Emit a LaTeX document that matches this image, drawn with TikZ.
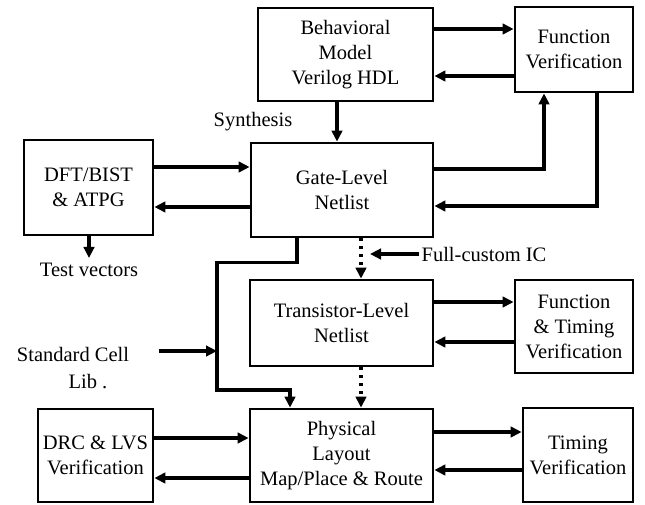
\documentclass[tikz,border=0pt]{standalone}
\usepackage{fontspec}
\setmainfont{Liberation Serif}
\usetikzlibrary{arrows.meta,positioning,calc}
\tikzset{
  blk/.style    = {draw,line width=2.8pt,inner sep=0pt,align=center,
                   font=\fontsize{20.5}{25}\selectfont},
  lbl/.style    = {inner sep=2pt,align=center,font=\fontsize{20.5}{27}\selectfont},
  arr/.style    = {-{Triangle[length=11pt,width=10.5pt]},line width=3.3pt},
  dotarr/.style = {arr,dash pattern=on 3pt off 5pt},
}

\begin{document}
\begin{tikzpicture}[x=1pt,y=-1pt]
  % Page frame
  \useasboundingbox (0,0) rectangle (645,504);

  % Design levels (middle column)
  \node[blk,minimum width=175pt,minimum height=93pt] (beh) at (345.5,54.5)
      {Behavioral\\Model\\Verilog HDL};
  \node[blk,minimum width=182pt,minimum height=94pt] (gate) at (342,190)
      {Gate-Level\\Netlist};
  \node[blk,minimum width=183pt,minimum height=86pt] (trans) at (341.5,323)
      {Transistor-Level\\Netlist};
  \node[blk,minimum width=183pt,minimum height=93pt] (phys) at (341.5,455.5)
      {Physical\\Layout\\Map/Place \& Route};

  % Verification and test boxes
  \node[blk,minimum width=118pt,minimum height=85pt] (fv) at (574,49.5)
      {Function\\Verification};
  \node[blk,minimum width=129pt,minimum height=95pt] (dft) at (88.5,187.5)
      {DFT/BIST\\\& ATPG};
  \node[blk,minimum width=118pt,minimum height=93pt] (ftv) at (574,326.5)
      {Function\\\& Timing\\Verification};
  \node[blk,minimum width=115pt,minimum height=93pt] (drc) at (95.5,455.5)
      {DRC \& LVS\\Verification};
  \node[blk,minimum width=110pt,minimum height=94pt] (tv) at (578,455)
      {Timing\\Verification};

  % Free labels
  \node[lbl] (syn) at (253,122) {Synthesis};
  \node[lbl,inner sep=5pt] (testv) at (89,270) {Test vectors};
  \node[lbl] (fcic) at (484,254) {Full-custom IC};
  \node[lbl] (stdlib) at (73,368) {Standard Cell\\\hspace*{30pt}Lib .};

  % Helper points
  \coordinate (gs) at ([xshift=19pt]gate.south);
  \coordinate (bus) at (217,351);

  % Behavioral <-> function verification
  \draw[arr] ([yshift=25.5pt]beh.east) -- ([yshift=25.5pt]beh.east -| fv.west);
  \draw[arr] ([yshift=-21.5pt]beh.east -| fv.west) -- ([yshift=-21.5pt]beh.east);
  % Synthesis
  \draw[arr] ([xshift=-8.5pt]beh.south) -- ([xshift=-8.5pt]beh.south |- gate.north);
  % Gate level <-> function verification
  \draw[arr] ([yshift=21pt]gate.east) -| ([xshift=-30pt]fv.south);
  \draw[arr] ([xshift=23pt]fv.south) |- ([yshift=-16pt]gate.east);
  % DFT <-> gate level
  \draw[arr] ([yshift=20.5pt]dft.east) -- ([yshift=20.5pt]dft.east -| gate.west);
  \draw[arr] ([yshift=-19.5pt]dft.east -| gate.west) -- ([yshift=-19.5pt]dft.east);
  \draw[arr] (testv.north |- dft.south) -- (testv.north);

  % Standard cell route
  \draw[arr] ([xshift=-45pt]gate.south) -- ++(0,24) -| (bus) -- ++(0,39)
      -| ([xshift=-51.5pt]phys.north);
  \draw[arr] ([xshift=28pt]stdlib.east |- bus) -- (bus);

  % Full-custom route
  \draw[dotarr] (gs) -- (gs |- trans.north);
  \draw[arr] (fcic.west) -- ([xshift=9pt]fcic.west -| gs);
  \draw[dotarr] (gs |- trans.south) -- (gs |- phys.north);

  % Transistor level <-> function & timing
  \draw[arr] ([yshift=21pt]trans.east) -- ([yshift=21pt]trans.east -| ftv.west);
  \draw[arr] ([yshift=-19pt]trans.east -| ftv.west) -- ([yshift=-19pt]trans.east);

  % Physical layout <-> DRC and timing
  \draw[arr] ([yshift=17.5pt]drc.east) -- ([yshift=17.5pt]drc.east -| phys.west);
  \draw[arr] ([yshift=-22.5pt]drc.east -| phys.west) -- ([yshift=-22.5pt]drc.east);
  \draw[arr] ([yshift=23.5pt]phys.east) -- ([yshift=23.5pt]phys.east -| tv.west);
  \draw[arr] ([yshift=-14.5pt]phys.east -| tv.west) -- ([yshift=-14.5pt]phys.east);
\end{tikzpicture}
\end{document}
